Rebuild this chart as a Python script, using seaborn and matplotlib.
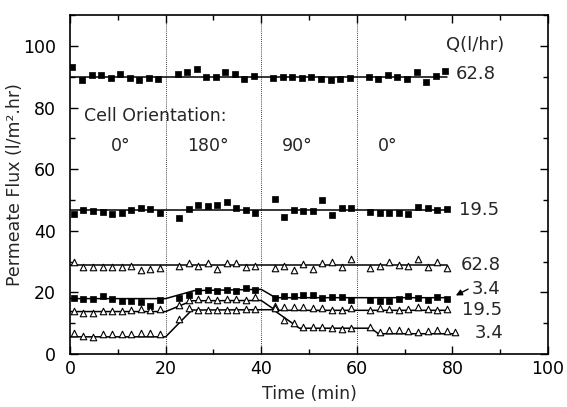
import numpy as np
import pandas as pd
import seaborn as sns
import matplotlib
matplotlib.use("Agg")
import matplotlib.pyplot as plt
from matplotlib.ticker import MultipleLocator

# sampling times (min)
t_sq_top = [0.5, 2.5, 4.5, 6.5, 8.5, 10.5, 12.5, 14.5, 16.5, 18.5,
            22.5, 24.5, 26.5, 28.5, 30.5, 32.5, 34.5, 36.5, 38.5,
            42.5, 44.5, 46.5, 48.5, 50.5, 52.5, 54.5, 56.5, 58.5,
            62.5, 64.5, 66.5, 68.5, 70.5, 72.5, 74.5, 76.5, 78.5]
t_main = [0.8, 2.8, 4.8, 6.8, 8.8, 10.8, 12.8, 14.8, 16.8, 18.8,
          22.8, 24.8, 26.8, 28.8, 30.8, 32.8, 34.8, 36.8, 38.8,
          42.8, 44.8, 46.8, 48.8, 50.8, 52.8, 54.8, 56.8, 58.8,
          62.8, 64.8, 66.8, 68.8, 70.8, 72.8, 74.8, 76.8, 78.8]
t_tri_low = t_main + [80.6]

# permeate flux (l/m2.hr)
flux_sq_628 = [93.3, 88.9, 90.6, 90.6, 89.5, 90.8, 89.7, 88.9, 89.5, 89.1,
               90.8, 91.4, 92.5, 90.0, 90.0, 91.4, 90.8, 89.1, 90.2,
               89.5, 89.8, 90.0, 89.5, 89.8, 89.3, 88.9, 89.1, 89.5,
               89.8, 89.3, 90.6, 89.9, 89.3, 91.4, 88.4, 90.3, 91.7]
flux_sq_195 = [45.6, 46.7, 46.5, 46.2, 45.6, 45.9, 46.7, 47.5, 47.0, 45.8,
               44.0, 47.0, 48.4, 48.1, 48.4, 49.4, 47.5, 46.7, 45.9,
               50.2, 44.5, 46.7, 46.5, 46.5, 50.0, 45.1, 47.3, 47.3,
               46.2, 45.9, 45.8, 45.9, 45.6, 47.8, 47.3, 46.7, 47.0]
flux_tri_628 = [29.9, 28.1, 28.1, 28.3, 28.1, 28.3, 28.5, 27.4, 27.6, 27.8,
                28.5, 29.4, 28.5, 29.4, 27.6, 29.4, 29.7, 28.3, 28.7,
                27.8, 28.5, 27.4, 29.2, 27.5, 29.4, 29.9, 28.3, 30.7,
                27.8, 28.6, 30.0, 28.9, 28.5, 30.8, 28.3, 30.0, 27.8]
flux_sq_34 = [18.2, 17.9, 17.9, 19.0, 17.9, 17.1, 17.1, 16.8, 15.7, 17.7,
              18.2, 19.3, 20.4, 20.9, 20.4, 20.7, 20.4, 21.5, 20.9,
              18.2, 18.8, 18.8, 19.3, 19.3, 18.2, 18.4, 18.5, 17.4,
              17.7, 17.1, 17.1, 17.9, 19.0, 18.2, 17.4, 18.5, 17.9]
flux_tri_195 = [14.0, 13.3, 13.3, 14.0, 14.0, 14.0, 14.4, 14.6, 14.4, 14.6,
                16.0, 17.5, 17.8, 17.9, 17.7, 17.8, 17.9, 17.7, 18.5,
                15.7, 15.2, 15.3, 15.4, 15.1, 14.9, 14.4, 14.4, 14.9,
                14.4, 14.9, 14.6, 14.4, 14.6, 15.2, 14.6, 14.4, 14.7]
flux_tri_34 = [6.7, 5.8, 5.6, 6.5, 6.5, 6.5, 6.5, 6.7, 6.9, 6.5,
               11.3, 14.9, 14.4, 14.4, 14.4, 14.4, 14.4, 14.6, 14.6,
               14.9, 11.1, 10.2, 8.9, 8.9, 8.9, 8.6, 8.3, 8.6,
               8.9, 7.2, 7.8, 7.8, 7.5, 7.2, 7.5, 7.8, 7.5, 7.2]

# fitted trend lines
fit_sq_628_x, fit_sq_628_y = [0, 78.8], [90.0, 90.0]
fit_sq_195_x, fit_sq_195_y = [0, 78.8], [46.7, 46.7]
fit_tri_628_x, fit_tri_628_y = [0, 78.9], [28.8, 28.8]
fit_sq_34_x = [0, 20, 26, 40, 43, 78.8]
fit_sq_34_y = [18.0, 18.0, 20.6, 21.0, 18.3, 18.3]
fit_tri_195_x = [0, 20, 25.5, 40, 43, 78.8]
fit_tri_195_y = [13.8, 13.8, 17.3, 17.4, 14.2, 14.2]
fit_tri_34_x = [0, 20, 25.5, 42.5, 48, 63, 64.5, 81]
fit_tri_34_y = [5.6, 5.6, 14.3, 14.4, 8.4, 8.4, 6.6, 6.6]

orient_x = [10.5, 28.8, 47.5, 66.5]
orient_labels = ["0°", "180°", "90°", "0°"]
switch_times = [20, 40, 60]

flow_labels = ["62.8", "19.5", "62.8", "3.4", "19.5", "3.4"]
flow_label_x = [80.6, 81.4, 81.7, 84.0, 82.1, 84.7]
flow_label_y = [91.0, 46.9, 28.9, 21.0, 14.4, 6.7]

sns.set_style("ticks")
plt.rcParams['font.family'] = ['DejaVu Sans']

fig = plt.figure(figsize=(5.67, 4.07), dpi=100)
ax = fig.add_axes([0.1235, 0.130, 0.843, 0.833])

series = [
    (t_sq_top, flux_sq_628, "s"), (t_main, flux_sq_195, "s"),
    (t_main, flux_tri_628, "^"), (t_main, flux_sq_34, "s"),
    (t_main, flux_tri_195, "^"), (t_tri_low, flux_tri_34, "^"),
]
for t, f, m in series:
    df = pd.DataFrame({"t": t, "flux": f})
    if m == "s":
        sns.scatterplot(data=df, x="t", y="flux", marker="s", s=20,
                        color="black", edgecolor="black", linewidth=0.5, ax=ax, zorder=3)
    else:
        sns.scatterplot(data=df, x="t", y="flux", marker="^", s=22,
                        facecolor="white", edgecolor="black", linewidth=0.8, ax=ax, zorder=3)

fits = [(fit_sq_628_x, fit_sq_628_y), (fit_sq_195_x, fit_sq_195_y),
        (fit_tri_628_x, fit_tri_628_y), (fit_sq_34_x, fit_sq_34_y),
        (fit_tri_195_x, fit_tri_195_y), (fit_tri_34_x, fit_tri_34_y)]
for fx, fy in fits:
    sns.lineplot(x=fx, y=fy, estimator=None, sort=False, color="black",
                 linewidth=1.1, ax=ax, zorder=2)

for xs in switch_times:
    ax.axvline(xs, color="black", linestyle=(0, (1, 1.5)), linewidth=0.6, zorder=1)

ax.set_xlim(0, 100)
ax.set_ylim(0, 110)
ax.xaxis.set_major_locator(MultipleLocator(20))
ax.xaxis.set_minor_locator(MultipleLocator(10))
ax.yaxis.set_major_locator(MultipleLocator(20))
ax.yaxis.set_minor_locator(MultipleLocator(10))
ax.set_yticks([0, 20, 40, 60, 80, 100])
ax.tick_params(which="both", direction="in", top=True, right=True, width=1.0, colors="black")
ax.tick_params(which="major", length=6, labelsize=12.5)
ax.tick_params(axis="x", which="major", pad=4)
ax.tick_params(axis="y", which="major", pad=10)
ax.tick_params(which="minor", length=3.5)
for sp in ax.spines.values():
    sp.set_linewidth(1.2)
    sp.set_color("black")

ax.set_xlabel("Time (min)", fontsize=12.5, labelpad=5)
ax.set_ylabel("Permeate Flux (l/m².hr)", fontsize=12.5)
ax.yaxis.set_label_coords(-0.097, 0.5)

ax.text(3.0, 77.3, "Cell Orientation:", fontsize=12.5, va="center", ha="left")
for ox, ol in zip(orient_x, orient_labels):
    ax.text(ox, 67.5, ol, fontsize=12.5, va="center", ha="center")
ax.text(78.6, 100.4, "Q(l/hr)", fontsize=13, va="center", ha="left")
for lx, ly, lab in zip(flow_label_x, flow_label_y, flow_labels):
    ax.text(lx, ly, lab, fontsize=13, va="center", ha="left")
ax.annotate("", xy=(80.2, 18.6), xytext=(83.8, 21.5),
            arrowprops=dict(arrowstyle="-|>", color="black", lw=1.0, mutation_scale=9))

fig.savefig("out.png", dpi=100)
